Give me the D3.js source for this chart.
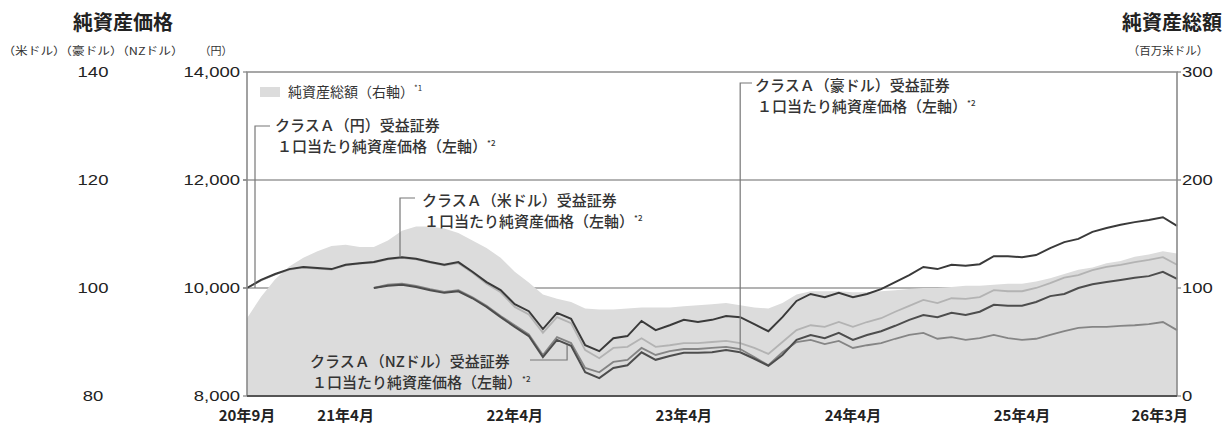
<!DOCTYPE html>
<html><head><meta charset="utf-8">
<script src="https://cdn.jsdelivr.net/npm/d3@7"></script>
<style>
html,body{margin:0;padding:0;background:#fff;}
svg{display:block;}
text{font-family:"Noto Sans CJK JP","Noto Sans",sans-serif;fill:#333;}
</style></head><body>
<svg id="chart" width="1227" height="428"></svg>
<script>
// Monthly points, 20年9月 .. 26年3月
const months = [];
for (let i = 0; i < 67; i++) {
  const t = 2020 * 12 + 8 + i;
  months.push(`${Math.floor(t / 12) % 100}年${t % 12 + 1}月`);
}
const xTickLabels = ["20年9月", "21年4月", "22年4月", "23年4月", "24年4月", "25年4月", "26年3月"];
const yenTicks = [8000, 10000, 12000, 14000];
const idxTicks = [80, 100, 120, 140];
const navTicks = [0, 100, 200, 300];

// 純資産総額 (百万米ドル)
const netAssets = [72,92,108,120,128,134,139,140,138,138,144,153,157,157,155,151,144,137,128,115,
  105,94,90,87,81,80,80,81,82,82,82,83,84,85,86,84,82,81,86,94,
  97,97,97,96,96,97,98,99,100,100,101,102,102,103,104,104,106,109,113,117,
  119,123,125,129,131,134,132];

// クラスA(円) 1口当たり純資産価格 (円)
const navJpy = [10000,10140,10250,10340,10380,10360,10340,10420,10450,10470,
  10530,10560,10530,10470,10420,10460,10280,10080,9920,9650,
  9510,9170,9460,9350,8850,8700,8890,8910,9070,8910,
  8940,8980,8980,9000,9020,8980,8890,8780,9000,9220,
  9310,9280,9370,9280,9370,9440,9560,9670,9780,9720,
  9810,9800,9830,9960,9940,9940,10000,10090,10190,10240,
  10330,10390,10430,10480,10520,10570,10430];

// クラスA(米ドル) 1口当たり純資産価格 (米ドル)
const navUsd = [100.0,101.5,102.6,103.5,103.9,103.7,103.5,104.3,104.6,104.8,
  105.4,105.7,105.4,104.8,104.3,104.8,103.0,101.1,99.6,97.0,
  95.7,92.4,95.4,94.3,89.4,88.3,90.7,91.1,93.9,92.2,
  93.1,94.1,93.7,94.1,94.8,94.6,93.3,92.0,94.6,97.6,
  98.9,98.3,99.1,98.3,98.9,99.8,101.1,102.4,103.9,103.5,
  104.3,104.1,104.4,105.9,105.9,105.7,106.1,107.4,108.5,109.1,
  110.4,111.1,111.7,112.2,112.6,113.1,111.5];

// クラスA(豪ドル) 1口当たり純資産価格 (豪ドル), 21年6月から
const navAud = [null,null,null,null,null,null,null,null,null,
  100.0,100.4,100.6,100.2,99.6,99.1,99.4,98.1,96.5,94.6,
  92.8,91.1,87.2,90.4,89.3,84.4,83.3,85.2,85.7,88.1,
  86.7,87.4,88.0,88.0,88.1,88.5,88.1,86.9,85.6,87.6,
  90.4,91.3,90.7,91.7,90.4,91.3,92.0,93.0,94.1,95.0,
  94.6,95.4,95.0,95.6,96.9,96.7,96.7,97.4,98.5,98.9,
  100.0,100.7,101.1,101.5,101.9,102.2,103.0,101.7];

// クラスA(NZドル) 1口当たり純資産価格 (NZドル), 21年6月から
const navNzd = [null,null,null,null,null,null,null,null,null,
  100.0,100.6,100.8,100.4,99.8,99.3,99.6,98.3,96.7,94.8,
  93.1,91.4,87.6,90.9,89.8,85.2,84.4,86.3,86.7,88.9,
  87.6,88.3,88.7,88.7,88.9,89.1,88.7,87.2,85.7,88.1,
  90.0,90.4,89.6,90.2,88.9,89.4,89.8,90.6,91.3,91.7,
  90.6,90.9,90.4,90.7,91.3,90.7,90.4,90.6,91.3,92.0,
  92.6,92.8,92.8,93.0,93.1,93.3,93.7,92.2];

const svg = d3.select("#chart");
const L = 247, R = 1177, T = 72, B = 396;

const x = d3.scalePoint().domain(months).range([L, R]);
const yYen = d3.scaleLinear().domain([8000, 14000]).range([B, T]);
const yIdx = d3.scaleLinear().domain([80, 140]).range([B, T]);
const yNav = d3.scaleLinear().domain([0, 300]).range([B, T]);

const fmt = d3.format(",");
const NUM_FONT = '"Liberation Sans", Arial, sans-serif';
const NUM_SX = 1.32;

// horizontally stretched label
function wideText(px, py, str, anchor, size, sx, family) {
  return svg.append("text")
    .attr("transform", `translate(${px},${py}) scale(${sx},1)`)
    .attr("text-anchor", anchor)
    .style("font-family", family || null)
    .style("font-size", size + "px")
    .style("fill", "#222")
    .text(str);
}
function numLabel(px, py, str, anchor) {
  wideText(px, py + 5, str, anchor, 14, NUM_SX, NUM_FONT);
}

// gridlines
svg.append("g").selectAll("line").data([10000, 12000]).join("line")
  .attr("x1", L - 4).attr("x2", R).attr("y1", d => yYen(d)).attr("y2", d => yYen(d))
  .attr("stroke", "#9a9a9a").attr("stroke-width", 1.3);

// net asset area
const area = d3.area()
  .x((d, i) => x(months[i])).y0(yNav(0)).y1(d => yNav(d));
svg.append("path").datum(netAssets).attr("d", area).attr("fill", "#dcdcdc");

// NAV lines
const lineIdx = d3.line().defined(d => d != null)
  .x((d, i) => x(months[i])).y(d => yIdx(d));
const lineYen = d3.line()
  .x((d, i) => x(months[i])).y(d => yYen(d));

svg.append("path").datum(navJpy).attr("d", lineYen)
  .attr("fill", "none").attr("stroke", "#b3b3b3").attr("stroke-width", 1.8);
svg.append("path").datum(navNzd).attr("d", lineIdx)
  .attr("fill", "none").attr("stroke", "#858585").attr("stroke-width", 1.8);
svg.append("path").datum(navAud).attr("d", lineIdx)
  .attr("fill", "none").attr("stroke", "#4d4d4d").attr("stroke-width", 2);
svg.append("path").datum(navUsd).attr("d", lineIdx)
  .attr("fill", "none").attr("stroke", "#3a3a3a").attr("stroke-width", 2);

// frame
svg.append("path").attr("d", `M${L},${B}V${T}H${R}V${B}`)
  .attr("stroke", "#8a8a8a").attr("stroke-width", 1.6).attr("fill", "none");
svg.append("line").attr("x1", L).attr("x2", R).attr("y1", B).attr("y2", B)
  .attr("stroke", "#555").attr("stroke-width", 2);

// tick marks
svg.append("g").selectAll("line").data(yenTicks).join("line")
  .attr("x1", L - 4).attr("x2", L).attr("y1", d => yYen(d)).attr("y2", d => yYen(d))
  .attr("stroke", "#8a8a8a").attr("stroke-width", 1.3);
svg.append("g").selectAll("line").data(navTicks).join("line")
  .attr("x1", R).attr("x2", R + 4).attr("y1", d => yNav(d)).attr("y2", d => yNav(d))
  .attr("stroke", "#8a8a8a").attr("stroke-width", 1.3);

// axis labels
yenTicks.forEach(v => numLabel(L - 7, yYen(v), fmt(v), "end"));
idxTicks.forEach(v => numLabel(93, yIdx(v), String(v), "middle"));
navTicks.forEach(v => numLabel(R + 5, yNav(v), String(v), "start"));

xTickLabels.forEach((lab, i) => {
  const last = i === xTickLabels.length - 1;
  svg.append("text")
    .attr("x", last ? x(lab) + 11 : x(lab))
    .attr("y", 421)
    .attr("text-anchor", last ? "end" : "middle")
    .style("font-size", "15px").style("font-weight", 700).style("fill", "#222")
    .text(lab);
});

// axis titles
svg.append("text").attr("x", 123).attr("y", 30).attr("text-anchor", "middle")
  .style("font-size", "20px").style("font-weight", 700).style("fill", "#222").text("純資産価格");
wideText(93, 55, "（米ドル）（豪ドル）（NZドル）", "middle", 11, 1.15).style("fill", "#333");
wideText(216, 55, "（円）", "middle", 11, 1.0).style("fill", "#333");
svg.append("text").attr("x", 1172).attr("y", 30).attr("text-anchor", "middle")
  .style("font-size", "20px").style("font-weight", 700).style("fill", "#222").text("純資産総額");
wideText(1168, 55, "（百万米ドル）", "middle", 11.5, 1.0).style("fill", "#333");

// legend
svg.append("rect").attr("x", 260).attr("y", 87).attr("width", 20).attr("height", 10).attr("fill", "#dcdcdc");
const leg = svg.append("text").attr("x", 288).attr("y", 97).style("font-size", "14px").style("fill", "#333");
leg.append("tspan").text("純資産総額（右軸）");
leg.append("tspan").attr("dy", -6).style("font-size", "8px").text("*1");

// class annotations
function note(tx, ty, line1) {
  svg.append("text").attr("x", tx).attr("y", ty)
    .style("font-size", "15px").style("font-weight", 500).style("fill", "#333").text(line1);
  const t2 = svg.append("text").attr("x", tx + 2).attr("y", ty + 21)
    .style("font-size", "15px").style("font-weight", 500).style("fill", "#333");
  t2.append("tspan").text("１口当たり純資産価格（左軸）");
  t2.append("tspan").attr("dy", -6).style("font-size", "8px").text("*2");
}
const conn = (d) => svg.append("path").attr("d", d).attr("fill", "none")
  .attr("stroke", "#777").attr("stroke-width", 1.2);

note(275, 131, "クラスＡ（円）受益証券");
conn(`M270,126H${x(months[0]) + 8}V${yYen(navJpy[0])}`);

note(422, 206, "クラスＡ（米ドル）受益証券");
conn(`M415,198H${x(months[11]) - 2}V${yIdx(navUsd[11])}`);

note(755, 91, "クラスＡ（豪ドル）受益証券");
conn(`M752,83H${x(months[35])}V${yIdx(navAud[35])}`);

note(310, 367, "クラスＡ（NZドル）受益証券");
conn(`M530,360H${x(months[23]) - 4}V${yIdx(navNzd[23]) + 2}`);
</script></body></html>
